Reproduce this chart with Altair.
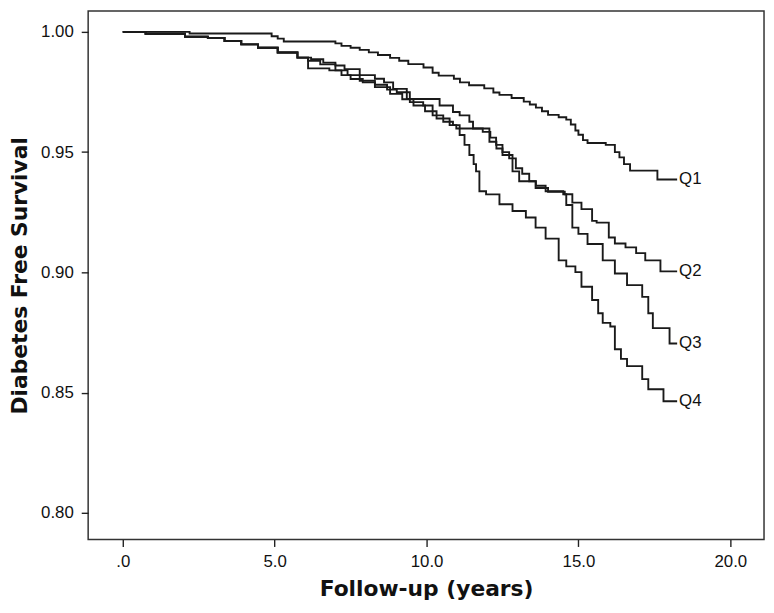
import altair as alt
import pandas as pd

# Kaplan-Meier style step curves (year at which the step occurs, survival after step)
q1_t = [0, 2.2, 4.9, 5.1, 5.3, 7.0, 7.2, 7.5, 7.8, 8.1, 8.4, 8.8, 9.1, 9.4, 9.9, 10.2, 10.4, 10.9, 11.1, 11.4,
        11.9, 12.2, 12.4, 12.8, 13.2, 13.4, 13.6, 13.8, 14.0, 14.35, 14.6, 14.75, 14.9, 15.0, 15.15, 15.3,
        15.9, 16.2, 16.35, 16.5, 16.7, 17.6, 18.25]
q1_s = [1.0, 0.9993, 0.9982, 0.9972, 0.996, 0.9952, 0.9942, 0.9934, 0.9925, 0.9915, 0.9904, 0.9892, 0.988,
        0.9866, 0.9852, 0.983, 0.9818, 0.9805, 0.979, 0.9778, 0.9765, 0.9748, 0.9738, 0.9725, 0.971, 0.9698,
        0.9685, 0.967, 0.9655, 0.9645, 0.9635, 0.9615, 0.959, 0.9572, 0.955, 0.9538, 0.953, 0.950, 0.9478,
        0.945, 0.9423, 0.9386, 0.9386]

q2_t = [0, 0.75, 2.05, 2.8, 3.35, 3.9, 4.45, 5.1, 5.75, 6.2, 6.6, 7.0, 7.3, 7.8, 8.3, 8.6, 8.9, 9.35, 10.2,
        10.43, 10.87, 11.09, 11.41, 11.53, 11.85, 12.1, 12.29, 12.5, 12.72, 12.94, 13.15, 13.38, 13.6, 13.92,
        14.5, 14.8, 15.1, 15.45, 15.6, 16.0, 16.2, 16.55, 16.9, 17.2, 17.7, 18.25]
q2_s = [1.0, 0.9992, 0.998, 0.9975, 0.9962, 0.9948, 0.9934, 0.9914, 0.9893, 0.9886, 0.9872, 0.986, 0.9845,
        0.982, 0.9805, 0.979, 0.9763, 0.9721, 0.9721, 0.9694, 0.9667, 0.9653, 0.9626, 0.9598, 0.9584, 0.956,
        0.953, 0.950, 0.9474, 0.9433, 0.941, 0.9379, 0.936, 0.9337, 0.9325, 0.929, 0.9263, 0.9214, 0.9207,
        0.9145, 0.912, 0.9104, 0.908, 0.905, 0.9004, 0.9004]

q3_t = [0, 0.75, 2.05, 2.8, 3.35, 3.9, 4.45, 5.1, 5.75, 6.1, 6.5, 7.0, 7.4, 7.8, 8.3, 8.7, 9.02, 9.45, 9.89,
        10.2, 10.55, 10.87, 10.98, 11.74, 12.07, 12.3, 12.5, 12.83, 13.05, 13.59, 14.0, 14.55, 14.6, 14.8,
        15.0, 15.3, 15.8, 16.2, 16.6, 17.1, 17.3, 17.45, 18.0, 18.25]
q3_s = [1.0, 0.9992, 0.998, 0.9975, 0.9962, 0.9948, 0.9934, 0.9914, 0.9893, 0.988, 0.9865, 0.984, 0.982,
        0.9797, 0.978, 0.976, 0.9749, 0.9708, 0.9694, 0.9653, 0.9626, 0.9612, 0.9598, 0.9598, 0.9543, 0.9515,
        0.9488, 0.942, 0.9379, 0.9351, 0.9335, 0.9325, 0.928, 0.9186, 0.916, 0.9118, 0.905, 0.8995, 0.8947,
        0.8898, 0.883, 0.8768, 0.8704, 0.8704]

q4_t = [0, 0.75, 2.05, 2.8, 3.35, 3.9, 4.45, 5.1, 5.75, 6.1, 6.8, 7.2, 7.5, 7.9, 8.3, 8.8, 9.2, 9.57, 9.95,
        10.33, 10.76, 11.09, 11.25, 11.41, 11.55, 11.63, 11.74, 11.96, 12.4, 12.83, 13.27, 13.59, 13.92, 14.35,
        14.6, 14.9, 15.1, 15.45, 15.65, 15.8, 16.05, 16.2, 16.4, 16.6, 17.1, 17.3, 17.8, 18.25]
q4_s = [1.0, 0.9992, 0.998, 0.9975, 0.9962, 0.9948, 0.9934, 0.9914, 0.9893, 0.9848, 0.984, 0.982, 0.9804,
        0.979, 0.977, 0.9742, 0.972, 0.9694, 0.967, 0.964, 0.9612, 0.9571, 0.953, 0.9488, 0.945, 0.942,
        0.9337, 0.9324, 0.9283, 0.9255, 0.9228, 0.9186, 0.914, 0.905, 0.9025, 0.9001, 0.894, 0.8885, 0.883,
        0.879, 0.8775, 0.868, 0.864, 0.861, 0.8556, 0.8514, 0.8464, 0.8464]

series_names = ["Q1", "Q2", "Q3", "Q4"]
series_t = [q1_t, q2_t, q3_t, q4_t]
series_s = [q1_s, q2_s, q3_s, q4_s]

x_ticks = [0, 5, 10, 15, 20]
y_ticks = [0.80, 0.85, 0.90, 0.95, 1.00]

rows = []
for name, ts, ss in zip(series_names, series_t, series_s):
    for t, s in zip(ts, ss):
        rows.append({"group": name, "year": t, "surv": s})
df = pd.DataFrame(rows)
lab = pd.DataFrame({"group": series_names,
                    "year": [ts[-1] for ts in series_t],
                    "surv": [ss[-1] for ss in series_s]})

xscale = alt.Scale(domain=[-1.14, 21.11], nice=False, zero=False)
yscale = alt.Scale(domain=[0.78889, 1.00864], nice=False, zero=False)

xaxis = alt.Axis(values=x_ticks, labelExpr="datum.value == 0 ? '.0' : format(datum.value, '.1f')",
                 title="Follow-up (years)", grid=False, domain=False,
                 tickSize=7, tickWidth=1.4, tickColor="#222",
                 labelFont="Liberation Sans", labelFontSize=17, labelColor="#111", labelPadding=7,
                 titleFont="DejaVu Sans", titleFontSize=22, titleFontWeight="bold", titleColor="#111",
                 titlePadding=10)
yaxis = alt.Axis(values=y_ticks, format=".2f", title="Diabetes Free Survival", grid=False, domain=False,
                 tickSize=7, tickWidth=1.4, tickColor="#222",
                 labelFont="Liberation Sans", labelFontSize=17, labelColor="#111", labelPadding=8,
                 titleFont="DejaVu Sans", titleFontSize=22, titleFontWeight="bold", titleColor="#111",
                 titlePadding=9)

lines = alt.Chart(df).mark_line(interpolate="step-after", color="#1a1a1a", strokeWidth=1.9).encode(
    x=alt.X("year:Q", scale=xscale, axis=xaxis),
    y=alt.Y("surv:Q", scale=yscale, axis=yaxis),
    detail="group:N",
    order="year:Q",
)

labels = alt.Chart(lab).mark_text(align="left", baseline="middle", dx=2, font="Liberation Sans",
                                  fontSize=17, color="#111").encode(
    x=alt.X("year:Q", scale=xscale),
    y=alt.Y("surv:Q", scale=yscale),
    text="group:N",
)

chart = (lines + labels).properties(
    width=683, height=534,
    autosize=alt.AutoSizeParams(type="none"),
    padding={"left": 81, "top": 0, "right": 2, "bottom": 60},
    background="white",
).configure_view(stroke="#333333", strokeWidth=1.5)

chart.save("out.html", embed_options={"renderer": "svg", "actions": False})
